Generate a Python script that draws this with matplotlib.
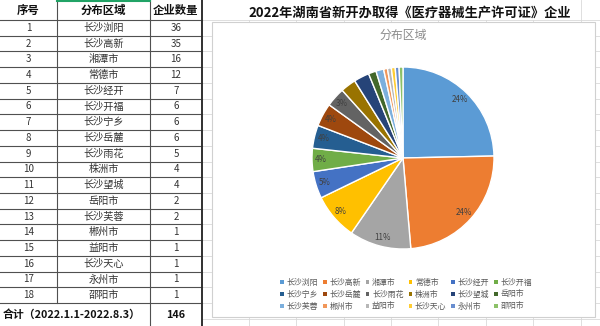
import matplotlib.pyplot as plt
from matplotlib.patches import Rectangle
import numpy as np

plt.rcParams['font.family'] = ['Noto Sans CJK SC', 'DejaVu Sans']

# Data
regions = ["长沙浏阳", "长沙高新", "湘潭市", "常德市", "长沙经开", "长沙开福",
           "长沙宁乡", "长沙岳麓", "长沙雨花", "株洲市", "长沙望城", "岳阳市",
           "长沙芙蓉", "郴州市", "益阳市", "长沙天心", "永州市", "邵阳市"]
counts = [36, 35, 16, 12, 7, 6, 6, 6, 5, 4, 4, 2, 2, 1, 1, 1, 1, 1]
headers = ["序号", "分布区域", "企业数量"]
total_label = "合计（2022.1.1-2022.8.3）"
title = "2022年湖南省新开办取得《医疗器械生产许可证》企业"
chart_title = "分布区域"

colors = ['#5B9BD5', '#ED7D31', '#A5A5A5', '#FFC000', '#4472C4', '#70AD47',
          '#255E91', '#9E480E', '#636363', '#997300', '#264478', '#43682B',
          '#7CAFDD', '#F1975A', '#B7B7B7', '#FFCD33', '#698ED0', '#8CC168']

fig = plt.figure(figsize=(6, 3.26), dpi=100)
ax = fig.add_axes([0, 0, 1, 1])
ax.set_xlim(0, 600)
ax.set_ylim(326, 0)
ax.axis('off')

# spreadsheet grid on the right
row_h = (303 - 20) / 18
grid_c = '#d9d9d9'
for k in range(20):
    y = 20 + row_h * k
    ax.plot([202, 600], [y, y], color=grid_c, lw=0.6, zorder=0)
for x in [249, 296, 344, 391, 438, 486, 533, 581]:
    ax.plot([x, x], [20, 326], color=grid_c, lw=0.6, zorder=0)
ax.plot([581, 581], [0, 20], color=grid_c, lw=0.6, zorder=0)

# table
line_c = '#505050'
col_x = [0, 57, 150, 202]
ys = [0, 20] + [20 + row_h * (i + 1) for i in range(18)] + [326]
for y in ys[1:-1]:
    ax.plot([0, 202], [y, y], color=line_c, lw=0.8, zorder=2)
ax.plot([57, 57], [0, 303], color=line_c, lw=0.8, zorder=2)
ax.plot([150, 150], [0, 326], color=line_c, lw=0.8, zorder=2)
ax.plot([202, 202], [0, 326], color='#303030', lw=1.4, zorder=2)
ax.plot([57, 150], [0.6, 0.6], color='#21A366', lw=1.5, zorder=3)

cx = [28.5, 103.5, 176]
for j, h in enumerate(headers):
    ax.text(cx[j], 10.5, h, ha='center', va='center', fontsize=8.2,
            fontweight='bold', color='#111111')
for i, (r, c) in enumerate(zip(regions, counts)):
    y = 20 + row_h * (i + 0.5)
    ax.text(cx[0], y, str(i + 1), ha='center', va='center', fontsize=7, color='#333333')
    ax.text(cx[1], y, r, ha='center', va='center', fontsize=7.3, color='#333333')
    ax.text(cx[2], y, str(c), ha='center', va='center', fontsize=7, color='#333333')
ax.text(3, 314.5, total_label, ha='left', va='center', fontsize=7.8,
        fontweight='bold', color='#111111')
ax.text(cx[2], 314.5, str(sum(counts)), ha='center', va='center', fontsize=7.8,
        fontweight='bold', color='#111111')

# title
ax.text(410, 12, title, ha='center', va='center', fontsize=9.5,
        fontweight='bold', color='#111111', zorder=3)

# chart area
ax.add_patch(Rectangle((212, 22), 383, 295, fc='white', ec='#d0d0d0', lw=0.8, zorder=4))
ax.text(403, 35, chart_title, ha='center', va='center', fontsize=8.6,
        color='#8c8c8c', zorder=5)

# percentages rounded to sum 100 (largest remainder)
raw = np.array(counts) / sum(counts) * 100
pct = np.floor(raw).astype(int)
rem = raw - pct
for idx in np.argsort(-rem, kind='stable')[:100 - pct.sum()]:
    pct[idx] += 1

# pie
pc, pr, cy = 403, 91, 158
pax = fig.add_axes([(pc - pr) / 600, 1 - (cy + pr) / 326, 2 * pr / 600, 2 * pr / 326])
pax.set_zorder(5)
wedges, _ = pax.pie(counts, colors=colors, startangle=90, counterclock=False,
                    wedgeprops=dict(edgecolor='white', linewidth=1.0))
pax.set_xlim(-1, 1)
pax.set_ylim(-1, 1)
pax.set_aspect('equal')
pax.axis('off')
for i, w in enumerate(wedges[:9]):
    a = np.deg2rad((w.theta1 + w.theta2) / 2)
    pax.text(0.9 * np.cos(a), 0.9 * np.sin(a), f"{pct[i]}%", ha='center', va='center',
             fontsize=5.8, color='#404040')

# legend
for i, (r, col) in enumerate(zip(regions, colors)):
    row, c = divmod(i, 6)
    x = 282 + 42.8 * c
    y = 282 + 12 * row
    ax.add_patch(Rectangle((x - 1.8, y - 1.8), 3.6, 3.6, fc=col, ec='none', zorder=6))
    ax.text(x + 4.5, y, r, ha='left', va='center', fontsize=5.7, color='#595959', zorder=6)

plt.savefig('out.png', dpi=100)
